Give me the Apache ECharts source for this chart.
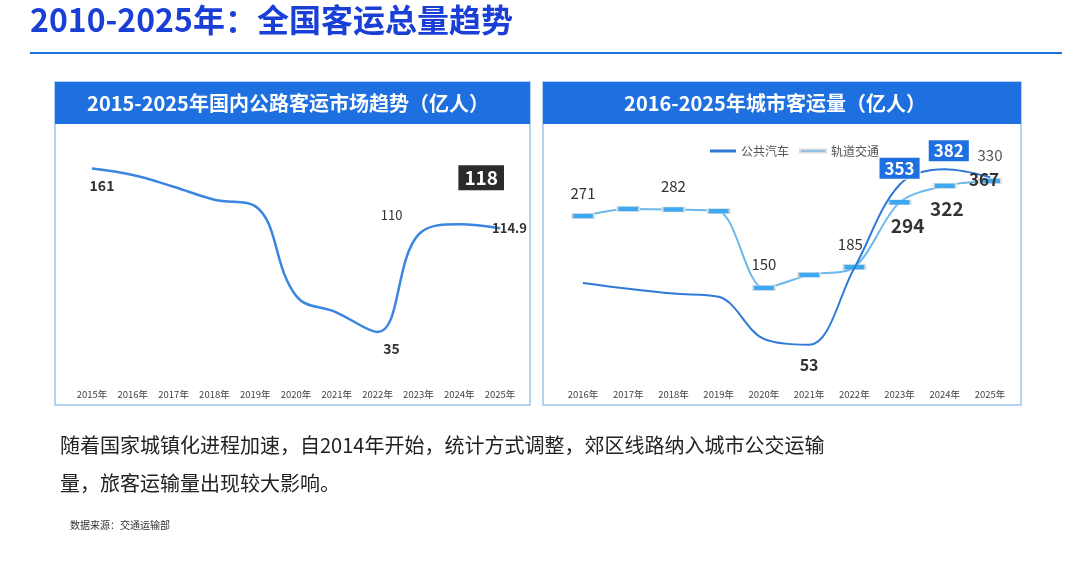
<!DOCTYPE html><html><head><meta charset="utf-8"><script src="https://cdn.jsdelivr.net/npm/echarts@6/dist/echarts.min.js"></script>
<style>body{margin:0}#c{width:1080px;height:569px}</style></head><body><div id="c"></div><script>
const roadYears=['2015年','2016年','2017年','2018年','2019年','2020年','2021年','2022年','2023年','2024年','2025年'];
const roadVals=[161,156,147,137,132,63,50,35,110,118,114.9];
const cityYears=['2016年','2017年','2018年','2019年','2020年','2021年','2022年','2023年','2024年','2025年'];
const busVals=[169,158,149,143,64,53,197,353,382,367];
const railVals=[271,283,282,279,150,172,185,294,322,330];
const F='"Noto Sans CJK SC",sans-serif';
const lbl=(o)=>Object.assign({show:true,fontFamily:F,color:'#333',fontSize:14},o);
const roadLab={0:lbl({position:'bottom',offset:[10,4],fontWeight:'bold'}),7:lbl({position:'bottom',offset:[14,4],fontWeight:'bold'}),8:lbl({position:'left',offset:[-10,-20],fontSize:13}),9:lbl({position:'top',offset:[22,-28],backgroundColor:'#2b2b2b',color:'#fff',fontWeight:'bold',fontSize:19,padding:[3,6]}),10:lbl({position:'right',offset:[-14,0],fontWeight:'bold',fontSize:13})};
const railLab={0:lbl({position:'top',offset:[0,-8],fontSize:15}),2:lbl({position:'top',offset:[0,-8],fontSize:15}),4:lbl({position:'top',offset:[0,-8],fontSize:15}),6:lbl({position:'top',offset:[-4,-8],fontSize:15}),7:lbl({position:'bottom',offset:[8,6],fontSize:19,fontWeight:'bold'}),8:lbl({position:'bottom',offset:[2,6],fontSize:19,fontWeight:'bold'}),9:lbl({position:'top',offset:[0,-10],fontSize:15,color:'#555'})};
const busLab={5:lbl({position:'bottom',offset:[0,6],fontSize:16,fontWeight:'bold'}),7:lbl({position:'top',offset:[0,0],backgroundColor:'#1e6fe0',color:'#fff',fontSize:17,fontWeight:'bold',padding:[2,5],borderColor:'#fff',borderWidth:1}),8:lbl({position:'top',offset:[4,-2],backgroundColor:'#1e6fe0',color:'#fff',fontSize:17,fontWeight:'bold',padding:[2,5]}),9:lbl({position:'inside',offset:[-6,2],fontSize:17,fontWeight:'bold'})};
const mk=(vals,labs)=>vals.map((v,i)=>labs[i]?{value:v,label:labs[i]}:{value:v,label:{show:false}});
const xa=(d,g)=>({type:'category',data:d,gridIndex:g,boundaryGap:false,axisLine:{show:false},axisTick:{show:false},axisLabel:{interval:0,fontSize:9.5,color:'#444',fontFamily:F,margin:10}});
const ya=(g,min,max)=>({type:'value',gridIndex:g,min,max,show:false});
const ch=echarts.init(document.getElementById('c'));
ch.setOption({animation:false,backgroundColor:'#fff',
graphic:[
{type:'text',left:30,top:4,style:{text:'2010-2025年：全国客运总量趋势',font:'bold 32px '+F,fill:'#1a3fd6'}},
{type:'rect',shape:{x:30,y:52,width:1032,height:2},style:{fill:'#1e6fe0'}},
{type:'rect',shape:{x:55,y:82,width:475,height:323},style:{fill:'none',stroke:'#9cc4ee',lineWidth:1.5}},
{type:'rect',shape:{x:55,y:82,width:475,height:42},style:{fill:'#1e6fe0'}},
{type:'text',x:288,y:103,style:{text:'2015-2025年国内公路客运市场趋势（亿人）',font:'bold 20px '+F,fill:'#fff',textAlign:'center',textVerticalAlign:'middle'}},
{type:'rect',shape:{x:543,y:82,width:478,height:323},style:{fill:'none',stroke:'#9cc4ee',lineWidth:1.5}},
{type:'rect',shape:{x:543,y:82,width:478,height:42},style:{fill:'#1e6fe0'}},
{type:'text',x:775,y:103,style:{text:'2016-2025年城市客运量（亿人）',font:'bold 20px '+F,fill:'#fff',textAlign:'center',textVerticalAlign:'middle'}},
{type:'text',left:60,top:426,style:{text:'随着国家城镇化进程加速，自2014年开始，统计方式调整，郊区线路纳入城市公交运输\n量，旅客运输量出现较大影响。',font:'20px '+F,fill:'#222',lineHeight:38}},
{type:'text',left:70,top:520,style:{text:'数据来源：交通运输部',font:'10px '+F,fill:'#333'}}
],
legend:{top:140,left:705,itemWidth:26,itemHeight:3,itemGap:10,textStyle:{fontSize:12,color:'#555',fontFamily:F},data:[{name:'公共汽车',icon:'rect'},{name:'轨道交通',icon:'rect'}]},
grid:[{left:92,width:408,top:140,height:240},{left:583,width:407,top:140,height:240}],
xAxis:[xa(roadYears,0),xa(cityYears,1)],
yAxis:[ya(0,-2,183),ya(1,-13,437),ya(1,-5,399)],
series:[
{type:'line',xAxisIndex:0,yAxisIndex:0,smooth:0.4,showSymbol:true,symbolSize:0.1,data:mk(roadVals,roadLab),lineStyle:{color:'#3a86e0',width:2.5},itemStyle:{color:'#3a86e0'}},
{name:'公共汽车',type:'line',xAxisIndex:1,yAxisIndex:1,smooth:0.35,symbolSize:0.1,data:mk(busVals,busLab),lineStyle:{color:'#2f7ad6',width:2},itemStyle:{color:'#2f7ad6'},z:3},
{name:'轨道交通',type:'line',xAxisIndex:1,yAxisIndex:2,smooth:0.3,symbol:'rect',symbolSize:[22,5],data:mk(railVals,railLab),lineStyle:{color:'#6cb8ea',width:2},itemStyle:{color:'#3fa9f0',borderColor:'#ddd',borderWidth:1},z:2}
]});
</script></body></html>
